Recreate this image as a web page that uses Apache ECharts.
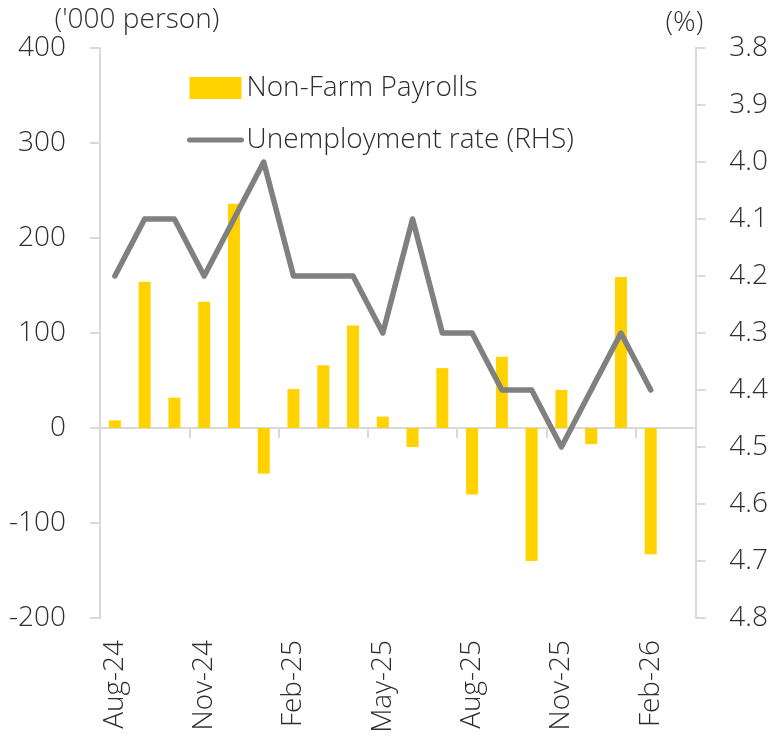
<!DOCTYPE html>
<html>
<head>
    <meta charset="UTF-8"/>
    <script type="text/javascript" src="https://cdn.jsdelivr.net/npm/echarts@6/dist/echarts.min.js"></script>
    <title>Non-Farm Payrolls</title>
    <style>
        html, body { margin: 0; padding: 0; background: #fff; }
        #chart { width: 771px; height: 737px; }
    </style>
</head>
<body>
<div id="chart"></div>

<script type="application/javascript">
    // months, Aug-24 .. Mar-26 (last slot is empty)
    var months = ['Aug-24', 'Sep-24', 'Oct-24', 'Nov-24', 'Dec-24', 'Jan-25', 'Feb-25', 'Mar-25', 'Apr-25',
        'May-25', 'Jun-25', 'Jul-25', 'Aug-25', 'Sep-25', 'Oct-25', 'Nov-25', 'Dec-25', 'Jan-26', 'Feb-26', 'Mar-26'];
    // '000 persons
    var payrolls = [8, 154, 32, 133, 236, -48, 41, 66, 108, 12, -20, 63, -70, 75, -140, 40, -17, 159, -133, null];
    // %
    var unemployment = [4.2, 4.1, 4.1, 4.2, 4.1, 4.0, 4.2, 4.2, 4.2, 4.3, 4.1, 4.3, 4.3, 4.4, 4.4, 4.5, 4.4, 4.3, 4.4, null];

    var leftTicks = {min: -200, max: 400, interval: 100};
    var rightTicks = {min: 3.8, max: 4.8, interval: 0.1};

    var txt = '#2e2e2e';
    var axisGrey = '#d9d9d9';
    var font = 'Open Sans';
    var weight = 300;
    var fs = 28;

    var myChart = echarts.init(document.getElementById('chart'));
    var option = {
        animation: false,
        textStyle: {fontFamily: font, color: txt, fontWeight: weight},
        grid: {left: 100, right: 75, top: 48, bottom: 119, containLabel: false},
        legend: {
            orient: 'vertical',
            left: 182,
            top: 69,
            itemWidth: 52,
            itemHeight: 22,
            itemGap: 24,
            textStyle: {fontFamily: font, fontWeight: weight, fontSize: fs, color: txt},
            data: [
                {name: 'Non-Farm Payrolls', icon: 'rect'},
                {
                    name: 'Unemployment rate (RHS)',
                    itemStyle: {color: 'rgba(0,0,0,0)', borderWidth: 0},
                    lineStyle: {color: '#808080', width: 5, cap: 'round'}
                }
            ]
        },
        xAxis: [
            {
                type: 'category',
                data: months,
                position: 'bottom',
                axisLine: {onZero: true, lineStyle: {color: axisGrey, width: 2}},
                axisTick: {show: true, interval: 2, length: 10, lineStyle: {color: axisGrey, width: 2}},
                axisLabel: {show: false}
            },
            {
                type: 'category',
                data: months,
                position: 'bottom',
                axisLine: {show: false, onZero: false},
                axisTick: {show: false},
                axisLabel: {
                    rotate: 90,
                    interval: 2,
                    margin: 22,
                    fontFamily: font,
                    fontWeight: weight,
                    fontSize: fs,
                    color: txt
                }
            }
        ],
        yAxis: [
            {
                type: 'value',
                min: leftTicks.min,
                max: leftTicks.max,
                interval: leftTicks.interval,
                name: "('000 person)",
                nameLocation: 'end',
                nameGap: 11,
                nameTextStyle: {fontFamily: font, fontWeight: weight, fontSize: fs, color: txt, align: 'center', padding: [0, 0, 0, 74]},
                axisLine: {show: true, lineStyle: {color: axisGrey, width: 2}},
                axisTick: {show: true, length: 10, lineStyle: {color: axisGrey, width: 2}},
                splitLine: {show: false},
                axisLabel: {margin: 34, fontFamily: font, fontWeight: weight, fontSize: fs, color: txt}
            },
            {
                type: 'value',
                inverse: true,
                min: rightTicks.min,
                max: rightTicks.max,
                interval: rightTicks.interval,
                name: '(%)',
                nameLocation: 'start',
                nameGap: 11,
                nameTextStyle: {fontFamily: font, fontWeight: weight, fontSize: fs, color: txt, align: 'center', padding: [0, 22, 0, 0]},
                axisLine: {show: true, lineStyle: {color: axisGrey, width: 2}},
                axisTick: {show: true, length: 10, lineStyle: {color: axisGrey, width: 2}},
                splitLine: {show: false},
                axisLabel: {
                    margin: 34,
                    fontFamily: font,
                    fontWeight: weight,
                    fontSize: fs,
                    color: txt,
                    formatter: function (v) { return v.toFixed(1); }
                }
            }
        ],
        series: [
            {
                name: 'Non-Farm Payrolls',
                type: 'bar',
                xAxisIndex: 0,
                yAxisIndex: 0,
                barWidth: 12,
                itemStyle: {color: '#FFD200'},
                data: payrolls
            },
            {
                name: 'Unemployment rate (RHS)',
                type: 'line',
                xAxisIndex: 0,
                yAxisIndex: 1,
                symbol: 'none',
                lineStyle: {color: '#808080', width: 5.5, cap: 'round', join: 'round'},
                itemStyle: {color: '#808080'},
                data: unemployment
            }
        ]
    };
    myChart.setOption(option);
</script>
</body>
</html>
